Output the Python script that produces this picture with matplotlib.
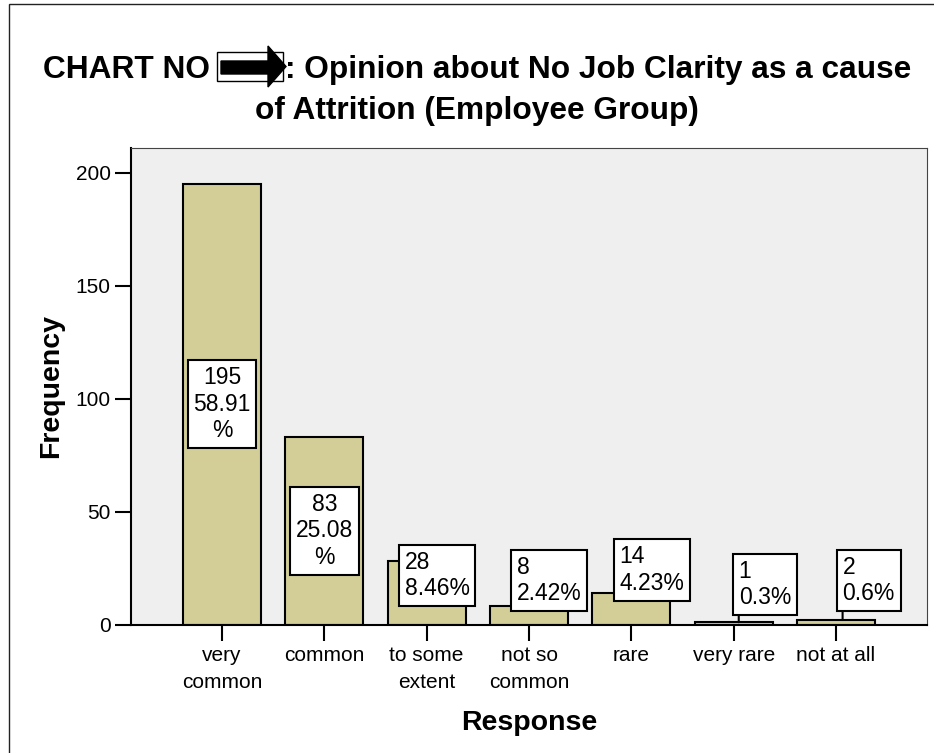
"""Bar chart: opinion about no job clarity as a cause of attrition (employee group)."""

import matplotlib

matplotlib.use("Agg")
import matplotlib.pyplot as plt
from matplotlib.patches import Polygon, Rectangle

categories = ["very\ncommon", "common", "to some\nextent", "not so\ncommon",
              "rare", "very rare", "not at all"]
frequency = [195, 83, 28, 8, 14, 1, 2]
percent_labels = ["58.91\n%", "25.08\n%", "8.46%", "2.42%", "4.23%", "0.3%", "0.6%"]
y_ticks = [0, 50, 100, 150, 200]

# label layout: the two tall bars get a centred box, the rest sit beside the bar top
label_inside = [True, True, False, False, False, False, False]
label_dx = [0, 0, -0.215, -0.12, -0.115, 0.05, 0.065]
label_top = [0, 0, 32.7, 30.5, 35.1, 28.6, 30.5]

BAR = "#d3ce97"
BG = "#efefef"
W, H = 934, 753

plt.rcParams["font.family"] = ["Liberation Sans", "DejaVu Sans"]

fig = plt.figure(figsize=(W / 100, H / 100), dpi=100)
ax = fig.add_axes([131 / W, 1 - 624.5 / H, (927 - 131) / W, (624.5 - 148) / H])
ax.set_facecolor(BG)

x = list(range(len(categories)))
ax.bar(x, frequency, width=0.76, color=BAR, edgecolor="black", linewidth=1.5, zorder=2)

ax.set_xlim(-0.89, 6.89)
ax.set_ylim(0, 210.9)
ax.set_yticks(y_ticks)
ax.set_xticks(x)
ax.set_xticklabels(categories, fontsize=15, linespacing=1.5)
ax.tick_params(axis="y", labelsize=15, length=11.5, width=1.5, pad=3)
ax.tick_params(axis="x", length=11.5, width=1.5, pad=4)

for side in ("left", "bottom"):
    ax.spines[side].set_linewidth(1.5)
for side in ("top", "right"):
    ax.spines[side].set_linewidth(0.8)
    ax.spines[side].set_color("#444444")

box = dict(boxstyle="square,pad=0.25", facecolor="white", edgecolor="black", linewidth=1.5)
for i, (n, pct) in enumerate(zip(frequency, percent_labels)):
    text = f"{n}\n{pct}"
    if label_inside[i]:
        ax.annotate(text, xy=(i, n / 2), ha="center", va="center", multialignment="center",
                    fontsize=16.5, bbox=box, zorder=4)
    else:
        ax.annotate(text, xy=(i + label_dx[i], n), xytext=(i + label_dx[i], label_top[i]),
                    ha="left", va="top", multialignment="left", fontsize=16.5, bbox=box,
                    zorder=4,
                    arrowprops=dict(arrowstyle="-", color="black", lw=1.5, relpos=(0, 0),
                                    patchA=None, shrinkA=0, shrinkB=0))

ax.set_ylabel("Frequency", fontsize=20.5, fontweight="bold", labelpad=8)
ax.set_xlabel("Response", fontsize=20.5, fontweight="bold", labelpad=13)


def fx(px):
    return px / W


def fy(py):
    return 1 - py / H


# title with the arrow placeholder box
TITLE_SIZE = 22.8
fig.text(fx(43), fy(78), "CHART NO", fontsize=TITLE_SIZE, fontweight="bold",
         va="baseline", ha="left")
fig.text(fx(285), fy(78), ": Opinion about No Job Clarity as a cause", fontsize=TITLE_SIZE,
         fontweight="bold", va="baseline", ha="left")
fig.text(fx(477), fy(118.5), "of Attrition (Employee Group)", fontsize=TITLE_SIZE,
         fontweight="bold", va="baseline", ha="center")

fig.add_artist(Rectangle((fx(217), fy(81)), fx(283) - fx(217), fy(52) - fy(81),
                         transform=fig.transFigure, facecolor="white", edgecolor="black",
                         linewidth=1.0))
arrow_pts = [(221, 61), (268, 61), (268, 46), (286, 66.5), (268, 87), (268, 74), (221, 74)]
fig.add_artist(Polygon([(fx(a), fy(b)) for a, b in arrow_pts], closed=True,
                       transform=fig.transFigure, facecolor="black", edgecolor="black"))

# outer frame (only its left and top edges fall inside the picture)
fig.add_artist(Rectangle((fx(8.5), -0.1), 1.2, fy(4.5) + 0.1, transform=fig.transFigure,
                         facecolor="none", edgecolor="#222222", linewidth=1.0))

fig.savefig("out.png", dpi=100)
